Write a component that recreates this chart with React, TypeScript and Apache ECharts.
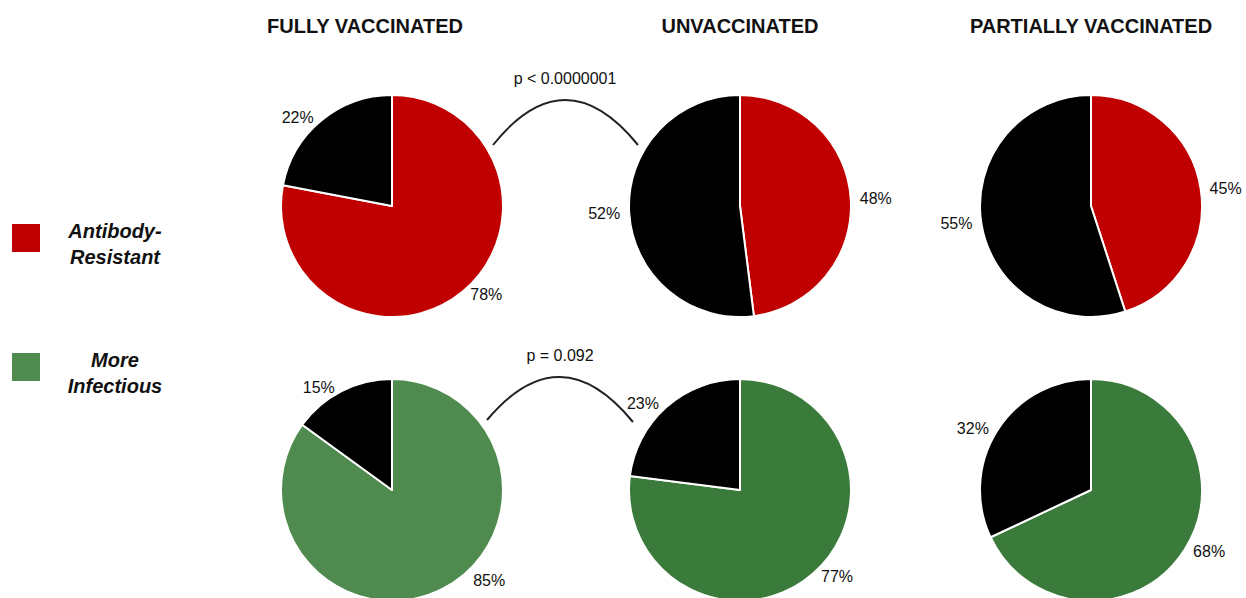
import React, { useEffect, useRef } from "react";
import * as echarts from "echarts";

const groups = ["FULLY VACCINATED", "UNVACCINATED", "PARTIALLY VACCINATED"];
const resistant = [78, 48, 45];
const infectious = [85, 77, 68];
const pValues = ["p < 0.0000001", "p = 0.092"];

const RED = "#c00000";
const GREEN_LIGHT = "#4f8a4f";
const GREEN_DARK = "#3a7a3a";

const App: React.FC = () => {
	const chartRef = useRef<HTMLDivElement>(null);

	useEffect(() => {
		if (!chartRef.current) return;
		const chart = echarts.init(chartRef.current, null, { renderer: "svg" });

		const xs = [392, 740, 1091];
		const ys = [206, 490];
		const label = {
			show: true,
			position: "outside" as const,
			formatter: "{c}%",
			fontSize: 16,
			color: "#111",
			fontFamily: "Liberation Sans",
			overflow: "none" as const,
		};
		// keep labels near the bottom edge inside the picture
		const labelLayout = (p: any) => {
			const r = p.labelRect;
			if (r.y + r.height > 590)
				return { x: r.x + r.width / 2 + 24, y: 580, align: "center", verticalAlign: "middle" };
			return {};
		};
		const mk = (x: number, y: number, v: number, color: string) => ({
			type: "pie" as const,
			center: [x, y],
			radius: 111,
			startAngle: 90,
			clockwise: true,
			avoidLabelOverlap: false,
			label,
			labelLayout,
			labelLine: { show: false, length: 4, length2: 0 },
			itemStyle: { borderColor: "#fff", borderWidth: 2 },
			emphasis: { disabled: true },
			data: [
				{ value: v, itemStyle: { color } },
				{ value: 100 - v, itemStyle: { color: "#000" } },
			],
		});

		const series = [
			...resistant.map((v, i) => mk(xs[i], ys[0], v, RED)),
			...infectious.map((v, i) => mk(xs[i], ys[1], v, i === 0 ? GREEN_LIGHT : GREEN_DARK)),
		];

		const titleStyle = { fontSize: 20, fontWeight: "bold" as const, fill: "#111", fontFamily: "Liberation Sans", textAlign: "center" as const };
		const legendText = { fontSize: 20, fontWeight: "bold" as const, fontStyle: "italic" as const, fill: "#111", fontFamily: "Liberation Sans", textAlign: "center" as const, lineHeight: 26 };

		chart.setOption({
			animation: false,
			series,
			graphic: [
				{ type: "text", x: 365, y: 16, style: { ...titleStyle, text: groups[0] } },
				{ type: "text", x: 740, y: 16, style: { ...titleStyle, text: groups[1] } },
				{ type: "text", x: 1091, y: 16, style: { ...titleStyle, text: groups[2] } },
				{ type: "text", x: 565, y: 70, style: { fontSize: 16, fill: "#111", fontFamily: "Liberation Sans", textAlign: "center", text: pValues[0] } },
				{ type: "text", x: 560, y: 347, style: { fontSize: 16, fill: "#111", fontFamily: "Liberation Sans", textAlign: "center", text: pValues[1] } },
				{ type: "bezierCurve", shape: { x1: 493, y1: 145, x2: 638, y2: 145, cpx1: 565, cpy1: 55 }, style: { stroke: "#222", lineWidth: 2, fill: "none" } },
				{ type: "bezierCurve", shape: { x1: 487, y1: 420, x2: 633, y2: 422, cpx1: 560, cpy1: 333 }, style: { stroke: "#222", lineWidth: 2, fill: "none" } },
				{ type: "rect", shape: { x: 12, y: 224, width: 28, height: 28 }, style: { fill: RED } },
				{ type: "rect", shape: { x: 12, y: 353, width: 28, height: 28 }, style: { fill: GREEN_LIGHT } },
				{ type: "text", x: 115, y: 218, style: { ...legendText, text: "Antibody-\nResistant" } },
				{ type: "text", x: 115, y: 347, style: { ...legendText, text: "More\nInfectious" } },
			],
		});
		return () => chart.dispose();
	}, []);

	return <div ref={chartRef} style={{ position: "fixed", left: 0, top: 0, width: 1246, height: 598, background: "#fff" }} />;
};

export default App;
